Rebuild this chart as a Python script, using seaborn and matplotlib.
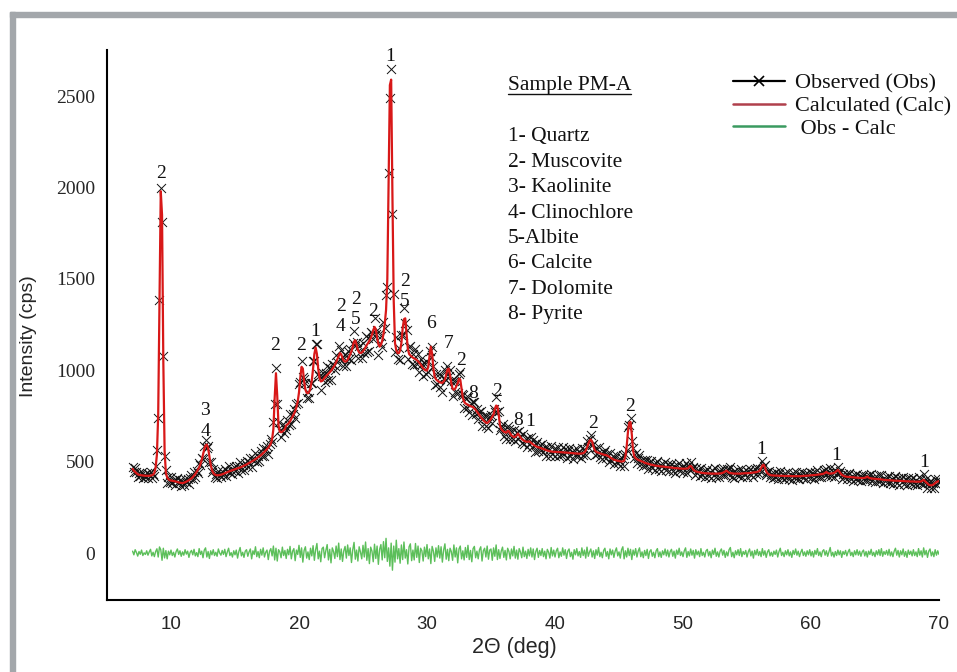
import numpy as np
import pandas as pd
import matplotlib
matplotlib.use("Agg")
import matplotlib.pyplot as plt
import seaborn as sns
from matplotlib.lines import Line2D
from matplotlib.patches import Rectangle

# ---------------- data ----------------
two_theta_start = 7.0
two_theta_step = 0.1

calc_values = [
    462, 452, 445, 438, 432, 430, 428, 427, 426, 425,      # 7
    424, 424, 424, 424, 425, 427, 430, 440, 470, 540,      # 8
    760, 1350, 1980, 1850, 1050, 560, 440, 415, 405, 400,  # 9
    398, 397, 395, 394, 392, 390, 388, 386, 385, 384,      # 10
    386, 389, 392, 396, 400, 405, 410, 417, 425, 434,      # 11
    445, 457, 470, 488, 510, 540, 570, 590, 595, 575,      # 12
    530, 485, 455, 440, 432, 428, 427, 427, 428, 430,      # 13
    432, 435, 438, 441, 444, 447, 450, 452, 455, 457,      # 14
    460, 462, 465, 467, 470, 472, 476, 479, 483, 486,      # 15
    490, 494, 498, 502, 506, 510, 515, 520, 525, 530,      # 16
    535, 541, 548, 555, 562, 570, 578, 588, 600, 625,      # 17
    680, 850, 985, 860, 700, 665, 662, 666, 672, 680,      # 18
    700, 705, 712, 722, 735, 748, 762, 778, 800, 830,      # 19
    880, 960, 1020, 1010, 940, 895, 878, 875, 885, 905,    # 20
    945, 1010, 1090, 1125, 1090, 1010, 960, 940, 942, 950, # 21
    960, 968, 975, 982, 990, 998, 1008, 1018, 1030, 1045,  # 22
    1062, 1080, 1095, 1088, 1068, 1052, 1048, 1050, 1060, 1072,  # 23
    1088, 1105, 1130, 1158, 1165, 1140, 1112, 1098, 1095, 1098,  # 24
    1105, 1115, 1128, 1140, 1150, 1162, 1175, 1195, 1220, 1238,  # 25
    1225, 1180, 1145, 1130, 1140, 1162, 1200, 1255, 1330, 1500,  # 26
    2050, 2560, 2590, 1950, 1380, 1150, 1110, 1095, 1095, 1110,  # 27
    1150, 1230, 1280, 1285, 1200, 1120, 1090, 1082, 1076, 1070,  # 28
    1066, 1062, 1057, 1050, 1042, 1033, 1022, 1012, 1005, 1000,  # 29
    1000, 1020, 1080, 1130, 1090, 1010, 965, 952, 945, 940,      # 30
    935, 933, 932, 940, 950, 978, 1005, 1010, 975, 930,          # 31
    900, 895, 900, 915, 930, 955, 950, 900, 850, 830,            # 32
    820, 816, 812, 808, 805, 802, 800, 792, 785, 775,            # 33
    765, 755, 745, 736, 728, 721, 715, 712, 718, 726,            # 34
    735, 748, 760, 790, 808, 805, 760, 700, 680, 672,            # 35
    665, 662, 660, 670, 668, 655, 645, 640, 635, 638,            # 36
    645, 655, 645, 635, 625, 620, 615, 612, 610, 611,            # 37
    612, 606, 600, 595, 590, 586, 582, 580, 578, 575,            # 38
    573, 570, 568, 565, 562, 560, 558, 557, 556, 555,            # 39
    555, 555, 554, 554, 553, 553, 552, 552, 551, 551,            # 40
    550, 550, 549, 548, 548, 547, 546, 546, 545, 545,            # 41
    546, 546, 548, 552, 562, 578, 598, 615, 622, 612,            # 42
    585, 565, 556, 552, 550, 547, 545, 542, 540, 538,            # 43
    537, 534, 530, 525, 520, 516, 512, 510, 508, 506,            # 44
    505, 503, 502, 503, 506, 530, 585, 665, 715, 718,            # 45
    650, 560, 530, 520, 515, 511, 508, 505, 502, 500,            # 46
    495, 493, 491, 489, 487, 485, 484, 482, 480, 479,            # 47
    478, 477, 476, 475, 475, 474, 473, 472, 471, 470,            # 48
    470, 469, 468, 467, 466, 466, 465, 464, 464, 463,            # 49
    463, 463, 463, 464, 465, 475, 478, 470, 458, 452,            # 50
    448, 446, 444, 443, 441, 440, 439, 438, 438, 437,            # 51
    437, 437, 436, 436, 436, 436, 436, 436, 437, 437,            # 52
    438, 440, 444, 448, 452, 446, 441, 439, 438, 437,            # 53
    436, 436, 436, 436, 436, 436, 437, 437, 438, 438,            # 54
    438, 439, 439, 440, 441, 442, 443, 444, 446, 448,            # 55
    452, 465, 480, 485, 470, 448, 438, 432, 429, 427,            # 56
    426, 426, 425, 425, 425, 424, 424, 424, 424, 423,            # 57
    423, 423, 423, 423, 423, 422, 422, 422, 422, 422,            # 58
    422, 422, 422, 423, 423, 424, 424, 425, 425, 426,            # 59
    427, 427, 428, 428, 429, 430, 431, 432, 433, 434,            # 60
    436, 440, 445, 440, 437, 436, 437, 438, 440, 444,            # 61
    450, 456, 448, 438, 430, 426, 422, 420, 419, 418,            # 62
    418, 417, 416, 416, 415, 414, 414, 413, 413, 412,            # 63
    412, 412, 413, 415, 420, 414, 411, 410, 409, 408,            # 64
    408, 407, 406, 406, 405, 404, 403, 402, 401, 401,            # 65
    400, 400, 399, 399, 398, 398, 397, 397, 397, 396,            # 66
    396, 396, 395, 395, 394, 394, 394, 393, 393, 393,            # 67
    393, 392, 392, 392, 392, 392, 393, 398, 402, 395,            # 68
    388, 382, 375, 373, 372, 374, 378, 384, 390, 393,            # 69
    395,                                                         # 70
]

obs_minus_calc = [
    12, -8, 20, 5, -15, 10, -5, 18, -12, 3,
    -6, 14, -10, 8, 22, -14, 6, -18, 10, 25,
    -20, 35, 20, -38, 28, -25, 15, -30, 12, -8,
    18, -12, 6, -20, 10, 24, -6, 14, -16, 8,
    -10, 20, -4, 12, -22, 6, 16, -8, 22, -14,
    4, -18, 26, -6, 12, -24, 18, 30, -20, 10,
    -28, 14, -8, 20, -12, 6, -16, 24, 2, -10,
    16, -6, 22, -18, 8, 28, -12, 4, -20, 14,
    -8, 18, -26, 10, 32, -14, 6, -22, 12, 20,
    -16, 8, 24, -30, 14, -6, 36, -18, 10, -24,
    22, -10, 30, -20, 6, 18, -34, 12, 26, -14,
    40, -36, 28, -42, 20, 8, -24, 34, -12, 16,
    -28, 22, -8, 38, -30, 12, 26, -40, 18, -6,
    44, -22, 30, -48, 16, 36, -26, 8, -34, 28,
    -14, 42, -38, 20, 54, -30, 12, -46, 26, 34,
    -24, 16, 48, -36, 22, -52, 30, 10, -28, 40,
    -18, 56, -34, 24, -44, 14, 38, -26, 46, -12,
    30, -50, 20, 60, -32, 18, -42, 36, 8, -30,
    44, -20, 62, -38, 26, -56, 34, 12, -46, 50,
    -28, 40, -60, 22, 48, -36, 64, -24, 82, -44,
    30, -70, 56, -92, 40, -48, 72, -30, 26, -54,
    46, -34, 62, -26, 20, -58, 36, 52, -40, 18,
    -36, 54, -22, 40, -50, 28, 14, -42, 34, -18,
    48, -30, 24, -56, 38, 12, -44, 30, -20, 42,
    -26, 36, -48, 18, 52, -32, 22, -40, 28, 10,
    -38, 46, -20, 30, -52, 24, 40, -30, 14, -36,
    32, -22, 44, -34, 16, -46, 26, 38, -24, 12,
    -30, 20, 36, -42, 14, 28, -20, 40, -32, 18,
    24, -38, 30, -16, 46, -34, 20, -28, 12, 34,
    -22, 16, -36, 28, 10, -30, 24, -14, 38, -26,
    18, -32, 26, 8, -24, 34, -18, 12, -28, 22,
    -14, 30, -20, 24, -34, 10, 28, -22, 16, -12,
    26, -18, 12, -30, 22, 6, -26, 32, -14, 18,
    -20, 14, 28, -24, 8, -16, 30, -10, 20, -28,
    12, 24, -18, 6, -32, 20, -8, 26, -14, 10,
    -22, 30, -12, 18, -26, 34, -16, 8, 24, -20,
    14, -28, 20, -10, 32, -18, 6, -24, 16, 28,
    -16, 10, -30, 24, -8, 18, -22, 12, 30, -14,
    8, -26, 20, 36, -30, 14, -20, 28, -12, 22,
    -34, 18, -10, 26, -20, 12, 30, -18, 8, -24,
    16, -12, 22, -28, 10, 20, -16, 6, -24, 14,
    26, -18, 8, -22, 14, -8, 24, -14, 18, -20,
    10, 22, -16, 12, -26, 18, -6, 28, -12, 8,
    -18, 14, 30, -22, 10, -14, 24, -10, 16, -26,
    20, -8, 12, -18, 26, -12, 6, -20, 14, 22,
    -14, 10, -24, 18, -6, 28, -16, 8, -20, 12,
    24, -10, 16, -22, 8, -14, 20, 32, -18, 6,
    -24, 14, -8, 20, -12, 26, -18, 10, -6, 16,
    -20, 8, 24, -14, 12, -26, 16, -8, 22, -12,
    10, -18, 26, -10, 14, -22, 8, 20, -14, 6,
    -16, 12, -6, 18, -20, 10, 28, -12, 6, -18,
    14, -8, 20, -14, 8, -22, 16, -6, 24, -10,
    12, -18, 6, 22, -12, 8, -16, 14, -8, 20,
    -14, 10, -20, 16, -6, 26, -12, 8, -18, 12,
    20, -10, 14, -16, 8, 32, -14, 6, -20, 10,
    -12, 18, -8, 14, -22, 10, -6, 16, -14, 8,
    22, -12, 6, -18, 14, -8, 20, -10, 12, -16,
    8, 18, -14, 10, -20, 12, -6, 22, -12, 6,
    -18, 14, -8, 20, -12, 26, -16, 10, -6, 16,
    -10, 22, -14, 8, -18, 12, 28, -10, 16, -20,
    14, -8, 24, -16, 10, -22, 18, -6, 12, -14,
    20, -12, 8, -18, 26, -10, 14, -20, 30, -8,
    16, -22, 12, 24, -14, 8, -18, 20, -10, 14,
    -6,
]

# phase labels: (text, 2theta, intensity)
peak_labels = [
    ("2", 9.25, 2075),
    ("3", 12.66, 783), ("4", 12.66, 668),
    ("2", 18.13, 1139),
    ("2", 20.2, 1139),
    ("1", 21.25, 1212),
    ("2", 23.25, 1349), ("4", 23.25, 1239),
    ("2", 24.45, 1389), ("5", 24.45, 1276),
    ("2", 25.8, 1321),
    ("1", 27.1, 2718),
    ("2", 28.28, 1486), ("5", 28.28, 1376),
    ("6", 30.31, 1258),
    ("7", 31.67, 1148),
    ("2", 32.63, 1057),
    ("8", 33.62, 874),
    ("2", 35.45, 883),
    ("8", 37.13, 728),
    ("1", 38.05, 719),
    ("2", 42.95, 710),
    ("2", 45.86, 801),
    ("1", 56.1, 568),
    ("1", 62.0, 537),
    ("1", 68.83, 495),
]

sample_title = "Sample PM-A"
phase_list = ["1- Quartz", "2- Muscovite", "3- Kaolinite", "4- Clinochlore",
              "5-Albite", "6- Calcite", "7- Dolomite", "8- Pyrite"]
legend_labels = ["Observed (Obs)", "Calculated (Calc)", " Obs - Calc"]

x_ticks = [10, 20, 30, 40, 50, 60, 70]
y_ticks = [0, 500, 1000, 1500, 2000, 2500]

# ---------------- build table ----------------
n = len(calc_values)
two_theta = np.round(two_theta_start + two_theta_step * np.arange(n), 2)
calc = np.array(calc_values, dtype=float)
diff = np.array(obs_minus_calc, dtype=float)
df = pd.DataFrame({"two_theta": two_theta, "calc": calc,
                   "obs": calc + diff, "diff": diff})

# ---------------- figure ----------------
sns.set_theme(style="white")
plt.rcParams["font.family"] = ["Liberation Serif", "DejaVu Serif"]

W, H = 957, 672
fig = plt.figure(figsize=(W / 100, H / 100), dpi=100)
fig.patch.set_facecolor("white")
ax = fig.add_axes([107 / W, 1 - 600 / H, (939 - 107) / W, (600 - 50) / H])
ax.set_facecolor("white")

RED = "#d81818"
GREEN = "#5cbf5a"

sns.scatterplot(data=df, x="two_theta", y="obs", marker="x", color="#111111",
                s=42, linewidth=0.7, ax=ax, legend=False, zorder=2)
sns.lineplot(data=df, x="two_theta", y="calc", color=RED, linewidth=1.6,
             ax=ax, legend=False, zorder=3)
sns.lineplot(data=df, x="two_theta", y="diff", color=GREEN, linewidth=1.0,
             ax=ax, legend=False, zorder=2)

ax.set_xlim(5, 70)
ax.set_ylim(-255, 2752)

for s in ["top", "right"]:
    ax.spines[s].set_visible(False)
for s in ["left", "bottom"]:
    ax.spines[s].set_color("black")
    ax.spines[s].set_linewidth(1.5)

ax.set_xticks(x_ticks)
ax.set_xticks([5, 15, 25, 35, 45, 55, 65], minor=True)
ax.set_yticks(y_ticks)
ax.set_yticks([-250, 250, 750, 1250, 1750, 2250], minor=True)
ax.tick_params(axis="both", which="major", direction="out", length=5.5,
               width=1.3, color="black")
ax.tick_params(axis="x", which="minor", direction="out", length=5.5,
               width=1.3, color="black")
ax.tick_params(axis="y", which="minor", direction="out", length=4,
               width=1.3, color="black")
ax.tick_params(axis="x", which="major", pad=6)
ax.tick_params(axis="y", which="major", pad=3)

for lab in ax.get_xticklabels():
    lab.set_fontfamily(["Liberation Sans"])
    lab.set_fontsize(13.5)
for lab in ax.get_yticklabels():
    lab.set_fontfamily(["Liberation Serif"])
    lab.set_fontsize(14)

ax.set_xlabel("2Θ (deg)", fontsize=15.5, fontfamily=["Liberation Sans"])
ax.xaxis.set_label_coords(0.49, -0.068)
ax.set_ylabel("Intensity (cps)", fontsize=14, fontfamily=["Liberation Sans"])
ax.yaxis.set_label_coords(-0.084, 0.48)

# peak phase labels
for txt, xx, yy in peak_labels:
    ax.text(xx, yy, txt, ha="center", va="center", fontsize=14,
            fontfamily="Liberation Serif", color="#111111", clip_on=False,
            zorder=5)

# sample title and phase list
title_t = ax.text(0.482, 0.936, sample_title, transform=ax.transAxes,
                  ha="left", va="center", fontsize=15.5,
                  fontfamily="Liberation Serif", color="#111111")
y0, dy = 0.842, 0.0462
for i, p in enumerate(phase_list):
    ax.text(0.482, y0 - i * dy, p, transform=ax.transAxes, ha="left",
            va="center", fontsize=15.5, fontfamily="Liberation Serif",
            color="#111111")

# legend
handles = [
    Line2D([], [], color="black", linewidth=1.6, marker="x", markersize=7,
           markeredgewidth=1.2),
    Line2D([], [], color="#b0404c", linewidth=1.8),
    Line2D([], [], color="#3a9a60", linewidth=1.8),
]
leg = ax.legend(handles, legend_labels, loc="upper left",
                bbox_to_anchor=(0.752, 0.958), frameon=False,
                handlelength=2.35, handletextpad=0.45, labelspacing=0.1,
                borderaxespad=0, borderpad=0,
                prop={"family": "Liberation Serif", "size": 16})
for t in leg.get_texts():
    t.set_color("#111111")

# underline of the sample title
fig.canvas.draw()
bb = title_t.get_window_extent()
fig.add_artist(Line2D([bb.x0 / W, bb.x1 / W],
                      [(bb.y0 + 1) / H, (bb.y0 + 1) / H],
                      transform=fig.transFigure, color="#111111",
                      linewidth=1.0))

# grey frame around the figure (left and top)
GREY = "#a3a7ab"
fig.add_artist(Rectangle((10 / W, 0), 5 / W, (H - 12) / H,
                         transform=fig.transFigure, color=GREY, zorder=0))
fig.add_artist(Rectangle((10 / W, 1 - 17 / H), (W - 10) / W, 5 / H,
                         transform=fig.transFigure, color=GREY, zorder=0))

fig.savefig("out.png", dpi=100, facecolor="white")
